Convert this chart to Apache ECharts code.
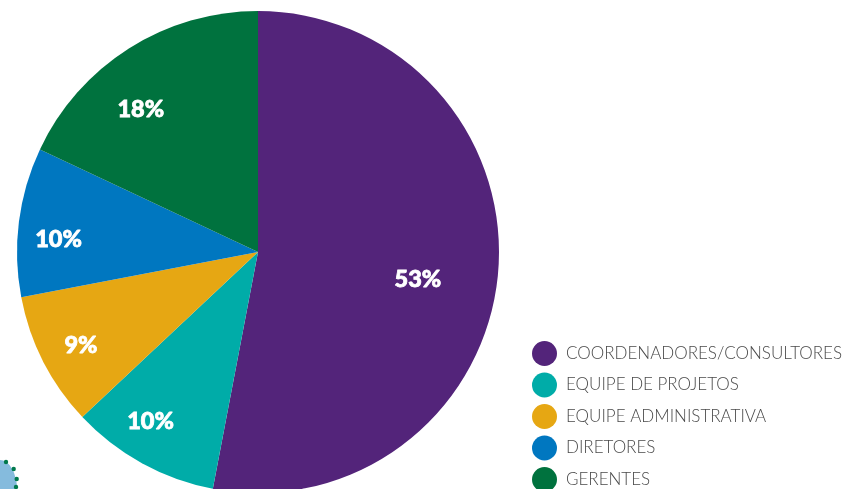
<!DOCTYPE html>
<html>
<head>
<meta charset="utf-8">
<style>
  html, body { margin: 0; padding: 0; background: #fff; overflow: hidden; }
  #main { width: 847px; height: 489px; }
</style>
<script src="https://cdn.jsdelivr.net/npm/echarts@6/dist/echarts.min.js"></script>
</head>
<body>
<div id="main"></div>
<script>
// dados do grafico
const categories = ['COORDENADORES/CONSULTORES', 'EQUIPE DE PROJETOS', 'EQUIPE ADMINISTRATIVA', 'DIRETORES', 'GERENTES'];
const percentages = [53, 10, 9, 10, 18];
const colors = ['#53247a', '#00aca8', '#e6a713', '#0077c0', '#00723e'];
const labelOffsets = [[37, 16], [-48, 61], [-67, 37], [-77, 3], [-51, -38]];

const chart = echarts.init(document.getElementById('main'), null, { renderer: 'canvas' });

chart.setOption({
  animation: false,
  legend: {
    orient: 'vertical',
    left: 532,
    top: 341,
    width: 315,
    height: 200,
    padding: 0,
    icon: 'circle',
    itemWidth: 25,
    itemHeight: 25,
    itemGap: 6.5,
    data: categories,
    textStyle: {
      fontFamily: 'Lato',
      fontWeight: 300,
      fontSize: 17,
      color: '#4a4a4a',
      padding: [4, 0, 0, 4]
    }
  },
  series: [{
    type: 'pie',
    center: [258, 252],
    radius: [0, 241],
    startAngle: 90,
    clockwise: true,
    silent: true,
    label: {
      show: true,
      position: 'inside',
      formatter: '{c}%',
      color: '#fff',
      fontFamily: 'Lato',
      fontWeight: 900,
      fontSize: 23.5,
      textBorderColor: '#fff',
      textBorderWidth: 0.8
    },
    labelLine: { show: false },
    data: categories.map((name, i) => ({
      name: name,
      value: percentages[i],
      itemStyle: { color: colors[i] },
      label: { offset: labelOffsets[i] }
    }))
  }],
  graphic: [
    // detalhe decorativo no canto inferior esquerdo
    { type: 'circle', x: 0, y: 490, scaleX: 0.57, shape: { cx: 0, cy: 0, r: 30 }, style: { fill: '#85bbdd' }, silent: true },
    { type: 'circle', shape: { cx: 6, cy: 462, r: 2.2 }, style: { fill: '#00794c' }, silent: true },
    { type: 'circle', shape: { cx: 13.7, cy: 469, r: 2.2 }, style: { fill: '#00794c' }, silent: true },
    { type: 'circle', shape: { cx: 16.7, cy: 479, r: 2.2 }, style: { fill: '#00794c' }, silent: true },
    { type: 'circle', shape: { cx: 16, cy: 487, r: 2.2 }, style: { fill: '#00794c' }, silent: true }
  ]
});
</script>
</body>
</html>
